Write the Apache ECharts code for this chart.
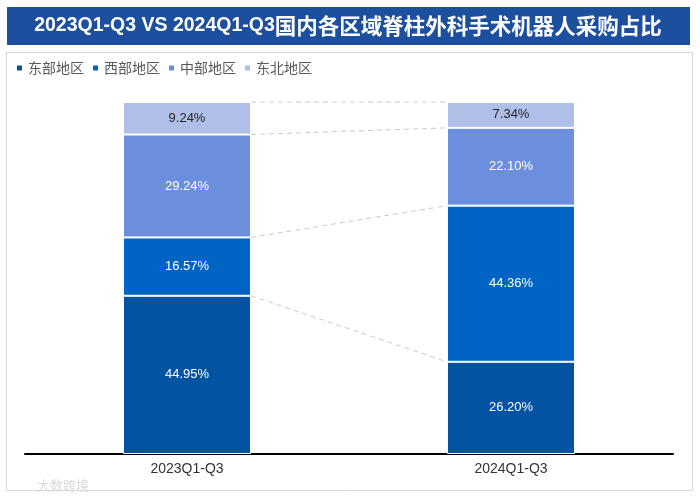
<!DOCTYPE html>
<html>
<head>
<meta charset="utf-8">
<script src="https://cdn.jsdelivr.net/npm/echarts@6/dist/echarts.min.js"></script>
<style>
html,body{margin:0;padding:0;background:#fff;}
#main{width:700px;height:504px;}
</style>
</head>
<body>
<div id="main"></div>
<script>
const titleLatin = '2023Q1-Q3 VS 2024Q1-Q3';
const titleCJK = '国内各区域脊柱外科手术机器人采购占比';
const categories = ['2023Q1-Q3', '2024Q1-Q3'];
const seriesNames = ['东部地区', '西部地区', '中部地区', '东北地区'];
const east = [44.95, 26.20];
const west = [16.57, 44.36];
const central = [29.24, 22.10];
const northeast = [9.24, 7.34];
const colors = ['#0452a2', '#0064c4', '#6b8fdc', '#afbfe8'];

const values = [east, west, central, northeast];
// cumulative boundaries (top of each segment) for the dashed connectors
const connectors = [];
let c0 = 0, c1 = 0;
values.forEach(v => { c0 += v[0]; c1 += v[1]; connectors.push([0, +c0.toFixed(2), +c1.toFixed(2)]); });

const BAR_RATIO = 0.395;
const FONT = 'Liberation Sans, Arial, "Noto Sans CJK SC", sans-serif';

const barSeries = values.map((v, i) => ({
  name: seriesNames[i],
  type: 'bar',
  stack: 'total',
  barWidth: (BAR_RATIO * 100) + '%',
  data: v,
  itemStyle: { color: colors[i], borderColor: '#ffffff', borderWidth: 1 },
  label: {
    show: true,
    position: 'inside',
    formatter: p => p.value.toFixed(2) + '%',
    color: i === 3 ? '#262626' : '#ffffff',
    fontSize: 13,
    fontFamily: FONT
  },
  z: 3
}));

const connectorSeries = {
  type: 'custom',
  name: 'connector',
  data: connectors,
  encode: { x: 0, y: [1, 2] },
  clip: false,
  z: 1,
  silent: true,
  renderItem: function (params, api) {
    const band = api.size([1, 0])[0];
    const half = band * BAR_RATIO / 2;
    const p0 = api.coord([0, api.value(1)]);
    const p1 = api.coord([1, api.value(2)]);
    return {
      type: 'line',
      shape: { x1: p0[0] + half, y1: p0[1], x2: p1[0] - half, y2: p1[1] },
      style: { stroke: '#c9c9c9', lineWidth: 1, lineDash: [5, 4] }
    };
  }
};

const chart = echarts.init(document.getElementById('main'), null, { renderer: 'canvas' });
chart.setOption({
  animation: false,
  backgroundColor: '#ffffff',
  color: colors,
  graphic: [
    { type: 'rect', left: 7, top: 7, shape: { width: 683, height: 38 }, style: { fill: '#1d4f9f' }, z: 0 },
    { type: 'text', x: 348, y: 26, style: {
        text: '{a|' + titleLatin + '}{b|' + titleCJK + '}',
        align: 'center', verticalAlign: 'middle',
        rich: {
          a: { fill: '#ffffff', fontFamily: '"Liberation Sans", Arial, sans-serif', fontWeight: 'bold', fontSize: 19.5 },
          b: { fill: '#ffffff', fontFamily: '"Noto Sans CJK SC", sans-serif', fontWeight: 'bold', fontSize: 21.5 }
        }
      }, z: 1 },
    { type: 'rect', shape: { x: 6.5, y: 52.5, width: 686, height: 438 }, style: { fill: 'none', stroke: '#d9d9d9', lineWidth: 1 }, z: 0 },
    { type: 'text', x: 37, y: 485, style: { text: '大数跨境', fill: '#d9d9d9', font: '13px "Noto Sans CJK SC", sans-serif', verticalAlign: 'middle' }, z: 1 }
  ],
  legend: {
    data: seriesNames,
    left: 10,
    top: 56,
    icon: 'rect',
    itemWidth: 7,
    itemHeight: 7,
    itemGap: 7,
    textStyle: { color: '#595959', fontSize: 14, fontFamily: '"Noto Sans CJK SC", sans-serif' }
  },
  grid: { left: 25, right: 27, top: 102, bottom: 50, containLabel: false },
  xAxis: {
    type: 'category',
    data: categories,
    axisLine: { lineStyle: { color: '#000000', width: 2 } },
    axisTick: { show: false },
    axisLabel: { color: '#333333', fontSize: 14, fontFamily: FONT, margin: 8 }
  },
  yAxis: {
    type: 'value',
    min: 0,
    max: 100,
    show: false,
    splitLine: { show: false }
  },
  series: barSeries.concat([connectorSeries])
});
</script>
</body>
</html>
